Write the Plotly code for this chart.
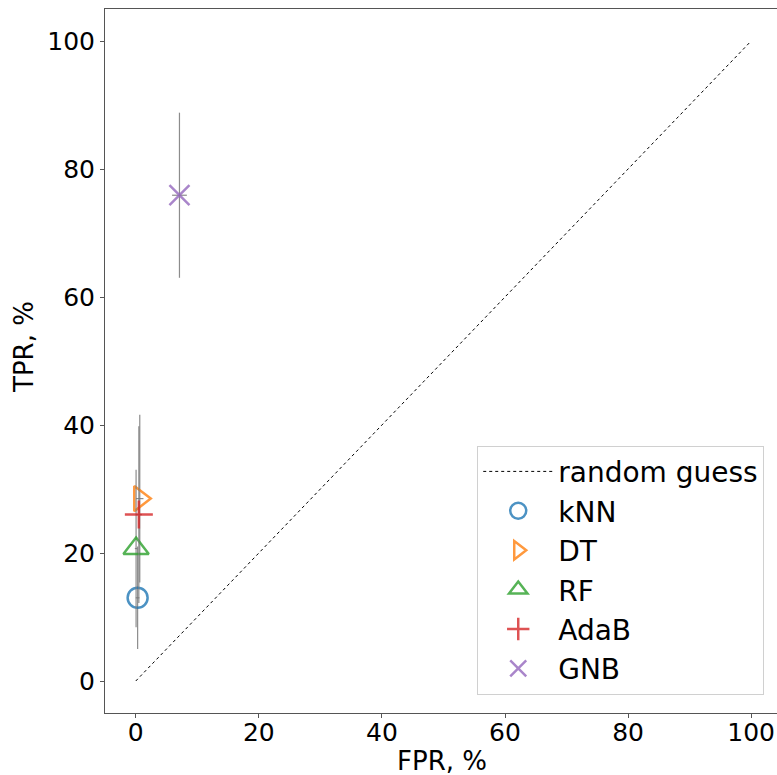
import plotly.graph_objects as go

models = ["kNN", "DT", "RF", "AdaB", "GNB"]
fpr = [0.3, 0.65, 0.05, 0.5, 7.1]
fpr_err = [0.3, 0.6, 0.2, 0.5, 1.2]
tpr = [13.0, 28.5, 20.7, 26.0, 75.9]
tpr_err = [8.0, 13.1, 12.3, 13.8, 12.9]
symbols = ["circle-open", "triangle-right-open", "triangle-up-open", "cross-thin-open", "x-thin-open"]
sizes = [20, 22, 22, 20, 20]
colors = ["rgba(31,119,180,0.8)", "rgba(255,127,14,0.8)", "rgba(44,160,44,0.8)",
          "rgba(214,39,40,0.8)", "rgba(148,103,189,0.8)"]
guess_x = [0, 100]
guess_y = [0, 100]
x_title = "FPR, %"
y_title = "TPR, %"

fig = go.Figure()
fig.add_trace(go.Scatter(x=guess_x, y=guess_y, mode="lines", name="random guess",
                         line=dict(color="black", width=1, dash="dot")))
for m, x, xe, y, ye, s, sz, c in zip(models, fpr, fpr_err, tpr, tpr_err, symbols, sizes, colors):
    fig.add_trace(go.Scatter(
        x=[x], y=[y], mode="markers", name=m,
        marker=dict(symbol=s, size=sz, color=c, line=dict(color=c, width=2.5)),
        error_y=dict(type="data", array=[ye], color="rgba(120,120,120,0.85)", thickness=1.2, width=0),
        error_x=dict(type="data", array=[xe], color="rgba(120,120,120,0.85)", thickness=1.2, width=0),
    ))

font = "DejaVu Sans"
fig.update_layout(
    width=777, height=775,
    margin=dict(l=105, r=0, t=9, b=62),
    paper_bgcolor="white", plot_bgcolor="white",
    font=dict(family=font, size=25, color="black"),
    showlegend=True,
    legend=dict(x=0.981, xanchor="right", y=0.026, yanchor="bottom",
                bgcolor="white", bordercolor="#d0d0d0", borderwidth=1,
                font=dict(size=28), itemwidth=70, tracegroupgap=0),
    annotations=[
        dict(text=x_title, xref="paper", yref="paper", x=0.5015, y=-0.0682,
             xanchor="center", yanchor="middle", showarrow=False, font=dict(size=26)),
        dict(text=y_title, xref="paper", yref="paper", x=-0.1205, y=0.52,
             xanchor="center", yanchor="middle", textangle=-90, showarrow=False, font=dict(size=26)),
    ],
)
fig.update_xaxes(range=[-5, 104.2], tickvals=[0, 20, 40, 60, 80, 100],
                 showgrid=False, zeroline=False, showline=True, linecolor="#555555",
                 linewidth=1, mirror=True, ticks="outside", ticklen=4, tickcolor="#555555",
                 ticklabelstandoff=-7)
fig.update_yaxes(range=[-5, 105], tickvals=[0, 20, 40, 60, 80, 100],
                 showgrid=False, zeroline=False, showline=True, linecolor="#555555",
                 linewidth=1, ticks="outside", ticklen=4, tickcolor="#555555")
fig.write_html("out.html")
